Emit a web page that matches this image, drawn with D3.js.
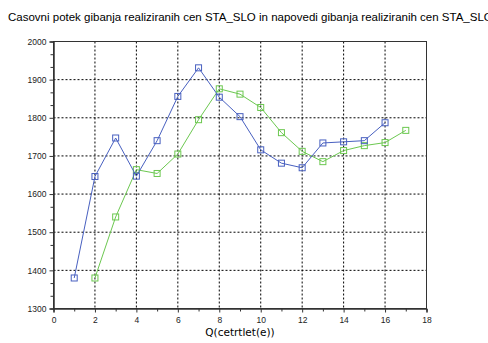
<!DOCTYPE html>
<html><head><meta charset="utf-8">
<script src="https://cdn.jsdelivr.net/npm/d3@7"></script>
<style>body{margin:0;background:#fff}svg{display:block}</style>
</head><body>
<svg id="c" width="488" height="343"></svg>
<script>
const titleText = "Casovni potek gibanja realiziranih cen STA_SLO in napovedi gibanja realiziranih cen STA_SLO";
const xLabel = "Q(cetrtlet(e))";
const blueX = [1,2,3,4,5,6,7,8,9,10,11,12,13,14,15,16];
const blueY = [1380,1646,1747,1647,1740,1856,1931,1854,1803,1716,1681,1669,1734,1737,1740,1787];
const greenX = [2,3,4,5,6,7,8,9,10,11,12,13,14,15,16,17];
const greenY = [1380,1540,1664,1654,1705,1795,1876,1862,1827,1761,1712,1685,1714,1727,1735,1767];
const xTicks = [0,2,4,6,8,10,12,14,16,18];
const yTicks = [1300,1400,1500,1600,1700,1800,1900,2000];

const svg = d3.select("#c");
const L=53.5, R=426.5, T=41.5, B=308.5;
const x = d3.scaleLinear().domain([0,18]).range([L,R]);
const y = d3.scaleLinear().domain([1300,2000]).range([B,T]);

svg.append("text").attr("x",8).attr("y",21).attr("font-family","Liberation Sans, Arial, sans-serif")
  .attr("font-size",11.5).attr("fill","#000").text(titleText);

// grid
const g = svg.append("g");
g.selectAll(".vg").data(xTicks.filter(d=>d>0&&d<18)).enter().append("line")
  .attr("x1",d=>x(d)).attr("x2",d=>x(d)).attr("y1",T).attr("y2",B)
  .attr("stroke","#000").attr("stroke-width",1).attr("stroke-dasharray","2,2");
g.selectAll(".hg").data(yTicks.filter(d=>d>1300&&d<2000)).enter().append("line")
  .attr("y1",d=>y(d)).attr("y2",d=>y(d)).attr("x1",L).attr("x2",R)
  .attr("stroke","#000").attr("stroke-width",1).attr("stroke-dasharray","2,2");

// frame
svg.append("rect").attr("x",L).attr("y",T).attr("width",R-L).attr("height",B-T)
  .attr("fill","none").attr("stroke","#333").attr("stroke-width",1);

// axes
const xAxis = d3.axisBottom(x).tickValues(xTicks).tickSize(4).tickFormat(d3.format("d"));
const xMinor = d3.axisBottom(x).tickValues(d3.range(1,18,2)).tickSize(3).tickFormat("");
const yAxis = d3.axisLeft(y).tickValues(yTicks).tickSize(4).tickFormat(d3.format("d"));
const yMinor = d3.axisLeft(y).tickValues(d3.range(1300,2000,100).flatMap(v=>[v+100/3,v+200/3])).tickSize(3).tickFormat("");
function style(sel){sel.select(".domain").attr("stroke","#333");sel.selectAll("line").attr("stroke","#333");
  sel.selectAll("text").attr("font-family","Liberation Sans, Arial, sans-serif").attr("font-size",8.5).attr("fill","#222");}
svg.append("g").attr("transform",`translate(0,${B})`).call(xAxis).call(style).call(s=>s.selectAll("text").attr("dy","0.9em"));
svg.append("g").attr("transform",`translate(0,${B})`).call(xMinor).call(style);
svg.append("g").attr("transform",`translate(${L},0)`).call(yAxis).call(style);
svg.append("g").attr("transform",`translate(${L},0)`).call(yMinor).call(style);

svg.append("text").attr("x",(L+R)/2).attr("y",336).attr("text-anchor","middle")
  .attr("font-family","DejaVu Sans, sans-serif").attr("font-size",10.5).attr("fill","#000").text(xLabel);

function series(xs, ys, color){
  const pts = xs.map((v,i)=>[v,ys[i]]);
  svg.append("path").datum(pts).attr("fill","none").attr("stroke",color).attr("stroke-width",1)
    .attr("d",d3.line().x(d=>x(d[0])).y(d=>y(d[1])));
  svg.selectAll(null).data(pts).enter().append("rect")
    .attr("x",d=>x(d[0])-3).attr("y",d=>y(d[1])-3).attr("width",6).attr("height",6)
    .attr("fill","none").attr("stroke",color).attr("stroke-width",1);
}
series(greenX, greenY, "#6cc850");
series(blueX, blueY, "#4860c0");
</script>
</body></html>
